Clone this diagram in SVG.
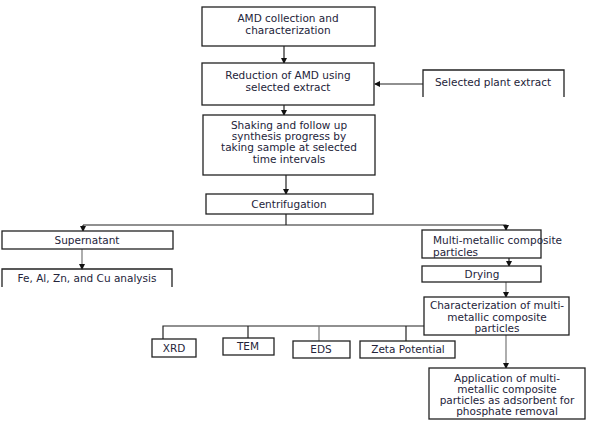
<svg xmlns="http://www.w3.org/2000/svg" width="599" height="423" viewBox="0 0 599 423">
<defs>
<marker id="ah" markerWidth="6" markerHeight="6" refX="5" refY="3" orient="auto" markerUnits="userSpaceOnUse">
<path d="M0,0 L6,3 L0,6 Z" fill="#111"/>
</marker>
<style>
.b{fill:#fff;stroke:#222;stroke-width:1.3}
.o{fill:none;stroke:#222;stroke-width:1.3}
.t{font-family:"DejaVu Sans",Verdana,sans-serif;font-size:10.5px;fill:#24243a;text-anchor:middle}
.l{text-anchor:start}
.c{fill:none;stroke:#222;stroke-width:1.2}
.g{stroke:#777}
.a{marker-end:url(#ah)}
</style>
</defs>
<rect width="599" height="423" fill="#fff"/>
<g id="connectors">
<path class="c a" d="M284,46 V63"/>
<path class="c a" d="M423,84 H375"/>
<path class="c a" d="M284,105 V115"/>
<path class="c a" d="M286,175 V194"/>
<path class="c" d="M286,214 V225"/>
<path class="c a" d="M83,225 H506 V230"/>
<path class="c a" d="M83,225 V231"/>
<path class="c a g" d="M82,249 V269"/>
<path class="c a" d="M509,258 V266"/>
<path class="c a g" d="M506,282 V297"/>
<path class="c a g" d="M506,335 V368"/>
<path class="c" d="M424,326 H163 V339"/>
<path class="c" d="M248,326 V338"/>
<path class="c g" d="M319,326 V341"/>
<path class="c" d="M406,326 V341"/>
</g>
<g id="amd-collection">
<rect class="b" x="202" y="7" width="173" height="39"/>
<text class="t" x="288" y="22">AMD collection and</text>
<text class="t" x="288" y="34">characterization</text>
</g>
<g id="reduction">
<rect class="b" x="202" y="63" width="172" height="42"/>
<text class="t" x="288" y="79">Reduction of AMD using</text>
<text class="t" x="288" y="91">selected extract</text>
</g>
<g id="plant-extract">
<path class="o" d="M423,97 V70 H564 V97"/>
<text class="t" x="493" y="86">Selected plant extract</text>
</g>
<g id="shaking">
<rect class="b" x="203" y="115" width="172" height="60"/>
<text class="t" x="289" y="129">Shaking and follow up</text>
<text class="t" x="289" y="140">synthesis progress by</text>
<text class="t" x="289" y="151">taking sample at selected</text>
<text class="t" x="289" y="163">time intervals</text>
</g>
<g id="centrifugation">
<rect class="b" x="206" y="194" width="167" height="20"/>
<text class="t" x="289" y="208">Centrifugation</text>
</g>
<g id="supernatant">
<rect class="b" x="2" y="231" width="171" height="18"/>
<text class="t" x="87" y="244">Supernatant</text>
</g>
<g id="analysis">
<path class="o" d="M2,287 V269 H172 V287"/>
<text class="t" x="87" y="282">Fe, Al, Zn, and Cu analysis</text>
</g>
<g id="multi-metallic">
<rect class="b" x="422" y="230" width="119" height="28"/>
<text class="t l" x="433" y="244">Multi-metallic composite</text>
<text class="t l" x="433" y="256">particles</text>
</g>
<g id="drying">
<rect class="b" x="422" y="266" width="119" height="16"/>
<text class="t" x="482" y="278">Drying</text>
</g>
<g id="characterization">
<rect class="b" x="424" y="297" width="145" height="38"/>
<text class="t" x="497" y="309">Characterization of multi-</text>
<text class="t" x="497" y="321">metallic composite</text>
<text class="t" x="497" y="332">particles</text>
</g>
<g id="xrd">
<rect class="b" x="152" y="339" width="44" height="18"/>
<text class="t" x="174" y="352">XRD</text>
</g>
<g id="tem">
<rect class="b" x="223" y="338" width="51" height="17"/>
<text class="t" x="248" y="350">TEM</text>
</g>
<g id="eds">
<rect class="b" x="293" y="341" width="57" height="17"/>
<text class="t" x="321" y="353">EDS</text>
</g>
<g id="zeta">
<rect class="b" x="360" y="341" width="95" height="17"/>
<text class="t" x="408" y="353">Zeta Potential</text>
</g>
<g id="application">
<rect class="b" x="429" y="368" width="156" height="51"/>
<text class="t" x="507" y="382">Application of multi-</text>
<text class="t" x="507" y="393">metallic composite</text>
<text class="t" x="507" y="404">particles as adsorbent for</text>
<text class="t" x="507" y="415">phosphate removal</text>
</g>
</svg>
